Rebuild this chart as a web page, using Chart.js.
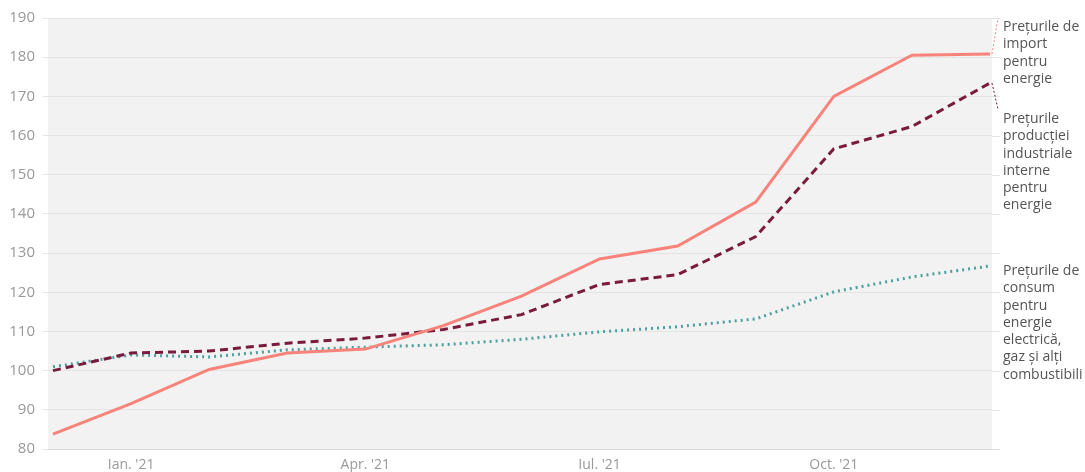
<!DOCTYPE html>
<html>
<head>
<meta charset="utf-8">
<script src="https://cdn.jsdelivr.net/npm/chart.js@4"></script>
<style>
  html, body { margin: 0; padding: 0; background: #fff; }
  #wrap { width: 1085px; height: 472px; }
</style>
</head>
<body>
<div id="wrap"><canvas id="energyChart" width="1085" height="472"></canvas></div>
<script>
// months Dec '20 .. Dec '21
const months = ["Dec. '20", "Ian. '21", "Feb. '21", "Mar. '21", "Apr. '21", "Mai '21", "Iun. '21",
                "Iul. '21", "Aug. '21", "Sep. '21", "Oct. '21", "Nov. '21", "Dec. '21"];
const tickMonths = [1, 4, 7, 10];
const yTicks = [80, 90, 100, 110, 120, 130, 140, 150, 160, 170, 180, 190];

const importPrices = [83.8, 91.6, 100.3, 104.5, 105.5, 111.5, 119.0, 128.5, 131.8, 143.0, 170.0, 180.5, 180.8];
const industrialPrices = [100.0, 104.5, 105.0, 107.0, 108.3, 110.5, 114.3, 122.0, 124.5, 134.2, 156.6, 162.3, 173.4];
const consumerPrices = [101.0, 104.0, 103.5, 105.3, 106.0, 106.6, 108.0, 109.9, 111.2, 113.2, 120.1, 123.9, 126.7];

const labelImport = ["Prețurile de", "import", "pentru", "energie"];
const labelIndustrial = ["Prețurile", "producției", "industriale", "interne", "pentru", "energie"];
const labelConsumer = ["Prețurile de", "consum", "pentru", "energie", "electrică,", "gaz și alți", "combustibili"];

const toPoints = arr => arr.map((v, i) => ({ x: i, y: v }));

// gray plot background
const plotBackground = {
    id: "plotBackground",
    beforeDraw(chart) {
        const { ctx, chartArea: a } = chart;
        ctx.save();
        ctx.fillStyle = "#f2f2f2";
        ctx.fillRect(a.left, a.top, a.right - a.left, a.bottom - a.top);
        ctx.restore();
    }
};

// gridlines run a little past the gray area on the right
const gridOverhang = {
    id: "gridOverhang",
    beforeDatasetsDraw(chart) {
        const { ctx, chartArea: a, scales } = chart;
        ctx.save();
        ctx.lineWidth = 1;
        yTicks.forEach(v => {
            const y = Math.round(scales.y.getPixelForValue(v)) + 0.5;
            ctx.strokeStyle = v === 80 ? "#dcdcdc" : "#e4e4e4";
            ctx.beginPath();
            ctx.moveTo(a.right, y);
            ctx.lineTo(a.right + 8, y);
            ctx.stroke();
        });
        ctx.restore();
    }
};

// labels on the right with little leader lines
const endLabels = {
    id: "endLabels",
    afterDraw(chart) {
        const { ctx } = chart;
        const textX = 1003;
        const lineH = 17.3;
        const items = [
            { ds: 0, lines: labelImport, top: 27, color: "#f8837a", leadTo: 24 },
            { ds: 1, lines: labelIndustrial, top: 119, color: "#7a1a3c", leadTo: 115 },
            { ds: 2, lines: labelConsumer, top: 271, color: null }
        ];
        ctx.save();
        items.forEach(it => {
            const meta = chart.getDatasetMeta(it.ds);
            const last = meta.data[meta.data.length - 1];
            if (it.color) {
                ctx.strokeStyle = it.color;
                ctx.lineWidth = 1;
                ctx.setLineDash([2, 2]);
                ctx.beginPath();
                ctx.moveTo(last.x + 2, last.y);
                ctx.lineTo(textX - 5, it.leadTo - 6);
                ctx.stroke();
            }
            ctx.setLineDash([]);
            ctx.fillStyle = "#555";
            ctx.font = "14px 'Open Sans'";
            ctx.textBaseline = "middle";
            ctx.textAlign = "left";
            it.lines.forEach((t, i) => ctx.fillText(t, textX, it.top + i * lineH));
        });
        ctx.restore();
    }
};

new Chart(document.getElementById("energyChart"), {
    type: "line",
    data: {
        datasets: [
            {
                label: labelImport.join(" "),
                data: toPoints(importPrices),
                borderColor: "#f8837a",
                borderWidth: 3,
                pointRadius: 0,
                tension: 0
            },
            {
                label: labelIndustrial.join(" "),
                data: toPoints(industrialPrices),
                borderColor: "#7a1a3c",
                borderWidth: 3,
                borderDash: [8, 5],
                pointRadius: 0,
                tension: 0
            },
            {
                label: labelConsumer.join(" "),
                data: toPoints(consumerPrices),
                borderColor: "#4e9fa0",
                borderWidth: 3,
                borderDash: [2, 4],
                pointRadius: 0,
                tension: 0
            }
        ]
    },
    options: {
        responsive: false,
        animation: false,
        layout: { padding: { top: 18, right: 93, left: 0, bottom: 0 } },
        plugins: {
            legend: { display: false },
            tooltip: { enabled: false }
        },
        scales: {
            x: {
                type: "linear",
                min: -0.064,
                max: 12.026,
                afterBuildTicks: scale => {
                    scale.ticks = tickMonths.map(v => ({ value: v }));
                },
                afterFit: scale => { scale.height = 23; },
                ticks: {
                    autoSkip: false,
                    maxRotation: 0,
                    padding: 0,
                    color: "#999",
                    font: { family: "'Open Sans'", size: 14 },
                    callback: v => months[v]
                },
                grid: { display: false },
                border: { display: true, color: "#dcdcdc" }
            },
            y: {
                min: 80,
                max: 190,
                afterFit: scale => { scale.width = 48; },
                ticks: {
                    stepSize: 10,
                    padding: 8,
                    color: "#999",
                    font: { family: "'Open Sans'", size: 15 }
                },
                grid: { color: "#e4e4e4", tickLength: 5 },
                border: { display: false }
            }
        }
    },
    plugins: [plotBackground, gridOverhang, endLabels]
});
</script>
</body>
</html>
